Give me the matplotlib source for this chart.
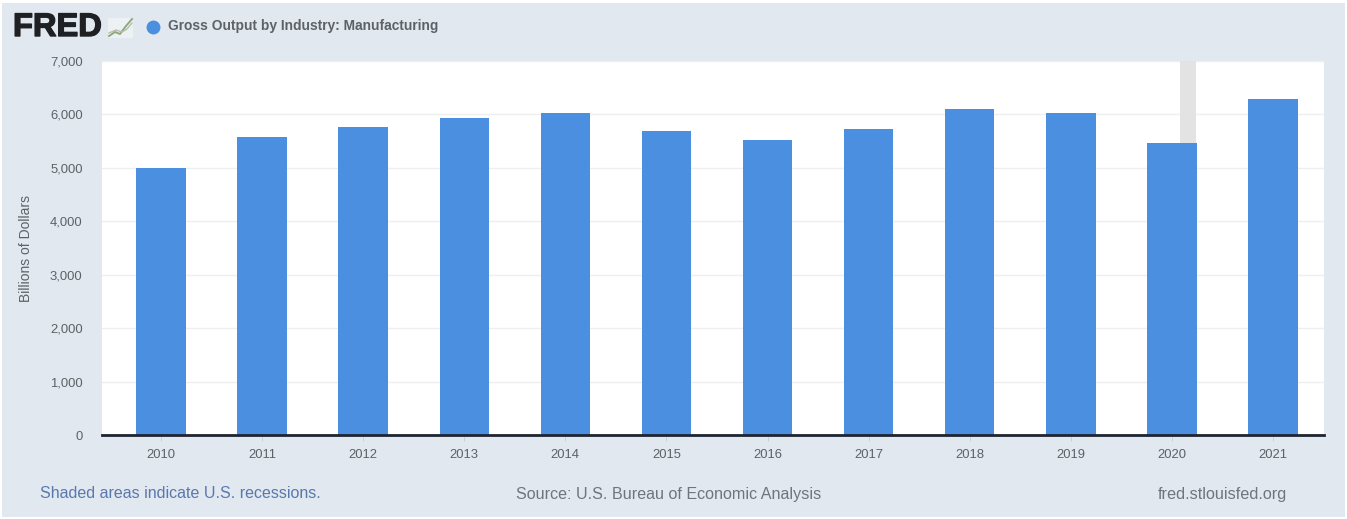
import matplotlib
matplotlib.use("Agg")
import matplotlib.pyplot as plt
import matplotlib.patheffects as pe
from matplotlib.patches import Rectangle
from matplotlib.ticker import FuncFormatter

plt.rcParams['font.family'] = ['Liberation Sans', 'DejaVu Sans']

W, H = 1347, 519

years = [2010, 2011, 2012, 2013, 2014, 2015, 2016, 2017, 2018, 2019, 2020, 2021]
gross_output = [5000, 5577, 5765, 5933, 6026, 5690, 5521, 5727, 6101, 6026, 5465, 6288]
y_ticks = [0, 1000, 2000, 3000, 4000, 5000, 6000, 7000]
recession = (2020.08, 2020.24)

series_name = "Gross Output by Industry: Manufacturing"
y_label = "Billions of Dollars"
note_left = "Shaded areas indicate U.S. recessions."
note_mid = "Source: U.S. Bureau of Economic Analysis"
note_right = "fred.stlouisfed.org"

PANEL = "#E1E8F0"
BAR = "#4A8FE0"
GREY = "#5E6165"
FOOT = "#70757C"

def fx(px):
    return px / W

def fy(py):
    return 1 - py / H

fig = plt.figure(figsize=(W / 100, H / 100), dpi=100, facecolor="white")

# Page panel behind everything
fig.patches.append(Rectangle((fx(2), fy(517)), fx(1343), 514 / H, transform=fig.transFigure,
                             facecolor=PANEL, edgecolor="none", zorder=-10))

ax = fig.add_axes([fx(102), fy(435), fx(1222), 374 / H])
ax.set_facecolor("white")
ax.set_xlim(2009.416, 2021.505)
ax.set_ylim(0, 7000)

ax.axvspan(*recession, color="#E3E3E3", lw=0, zorder=1)
ax.bar(years, gross_output, width=0.49, color=BAR, zorder=3)

ax.set_yticks(y_ticks)
ax.yaxis.set_major_formatter(FuncFormatter(lambda v, _: f"{int(v):,}"))
ax.set_xticks(years)
ax.set_xticklabels([str(y) for y in years])
ax.grid(axis="y", color="#EFEFEF", lw=1, zorder=0)
ax.set_axisbelow(True)
for side in ("top", "left", "right"):
    ax.spines[side].set_visible(False)
ax.spines["bottom"].set_color("#1E2430")
ax.spines["bottom"].set_linewidth(2)
ax.spines["bottom"].set_zorder(5)
ax.tick_params(axis="y", length=0, pad=14, labelsize=9.4, labelcolor=GREY)
ax.tick_params(axis="x", length=4, width=0.6, color="#C8CCD2", pad=6, labelsize=9.4, labelcolor=GREY)

fig.text(fx(26), fy(249), y_label, rotation=90, ha="center", va="center",
         fontsize=10, color=GREY)

# Header: wordmark, small sparkline icon, legend entry
fig.text(fx(13), fy(27.5), "FRED", ha="left", va="center", fontsize=23.5,
         fontweight="bold", color="#1F2023",
         path_effects=[pe.withStroke(linewidth=1.0, foreground="#1F2023")])
fig.patches.append(Rectangle((fx(108), fy(38)), fx(25), 20 / H, transform=fig.transFigure,
                             facecolor="#EEF1F3", edgecolor="none"))
fig.add_artist(plt.Line2D([fx(v) for v in (109, 115, 120, 126, 132)],
                          [fy(v) for v in (36, 32, 34, 26, 19)],
                          color="#8FA97C", lw=1.4))
fig.add_artist(plt.Line2D([fx(v) for v in (109, 116, 122, 127, 132)],
                          [fy(v) for v in (33, 30, 32, 29, 23)],
                          color="#B4BFAF", lw=1.0))
fig.add_artist(plt.Line2D([fx(153)], [fy(26.5)], marker="o", ms=10, color=BAR, mec="none"))
fig.text(fx(168), fy(26), series_name, ha="left", va="center", fontsize=9.9,
         fontweight="bold", color="#5E6165")

# Footer notes
fig.text(fx(40), fy(494), note_left, ha="left", va="center", fontsize=11.55, color="#5A78AE")
fig.text(fx(516), fy(494), note_mid, ha="left", va="center", fontsize=11.6, color=FOOT)
fig.text(fx(1287), fy(494), note_right, ha="right", va="center", fontsize=11.7, color=FOOT)

fig.savefig("out.png", dpi=100, facecolor="white")
